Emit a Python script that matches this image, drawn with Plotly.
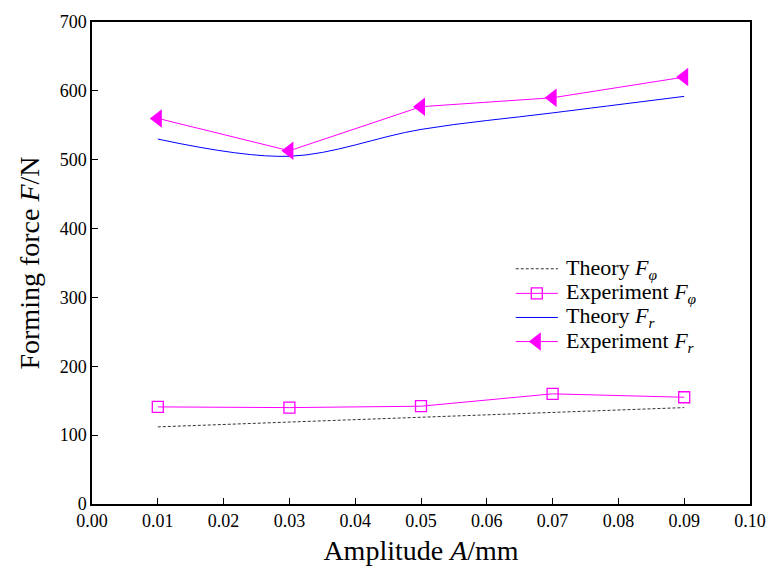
import plotly.graph_objects as go

amplitude = [0.01, 0.03, 0.05, 0.07, 0.09]
theory_fphi = [112, 119, 126, 133, 140]
exp_fphi = [141, 140, 142, 160, 155]
theory_fr = [530, 505, 544, 568, 592]
exp_fr = [560, 513, 577, 590, 620]

series_names = ["Theory <i>F<sub>φ</sub></i>", "Experiment <i>F<sub>φ</sub></i>",
                "Theory <i>F<sub>r</sub></i>", "Experiment <i>F<sub>r</sub></i>"]

x_ticks = [i / 100 for i in range(0, 11)]
x_tick_labels = [f"{v:.2f}" for v in x_ticks]
y_ticks = list(range(0, 701, 100))

FONT = "Liberation Serif, Times New Roman, serif"
MAG = "#FF00FF"
BLUE = "#0000FF"
DASHC = "#333333"

styles = [
    dict(mode="lines", line=dict(color=DASHC, width=1, dash="3px,2px")),
    dict(mode="lines+markers", line=dict(color=MAG, width=1),
         marker=dict(symbol="square-open", size=11, color=MAG, line=dict(width=1.3))),
    dict(mode="lines", line=dict(color=BLUE, width=1)),
    dict(mode="lines+markers", line=dict(color=MAG, width=1),
         marker=dict(symbol="triangle-left", size=16, color=MAG)),
]

fig = go.Figure()
fig.add_trace(go.Scatter(x=amplitude, y=theory_fphi, name=series_names[0], **styles[0]))
fig.add_trace(go.Scatter(x=amplitude, y=exp_fphi, name=series_names[1], **styles[1]))
s2 = dict(styles[2]); s2["line"] = dict(color=BLUE, width=1, shape="spline", smoothing=1.0)
fig.add_trace(go.Scatter(x=amplitude, y=theory_fr, name=series_names[2], **s2))
fig.add_trace(go.Scatter(x=amplitude, y=exp_fr, name=series_names[3], **styles[3]))

# Legend drawn on an overlay axis (fractions of the plot area)
leg_x0, leg_x1, leg_xm, leg_xt = 0.644, 0.708, 0.676, 0.718
leg_rows = [0.488, 0.437, 0.387, 0.337]
for name, st, yy in zip(series_names, styles, leg_rows):
    if "markers" in st["mode"]:
        fig.add_trace(go.Scatter(x=[leg_x0, leg_x1], y=[yy, yy], mode="lines", line=st["line"],
                                 xaxis="x2", yaxis="y2", showlegend=False, hoverinfo="skip"))
        fig.add_trace(go.Scatter(x=[leg_xm], y=[yy], mode="markers", marker=st["marker"],
                                 xaxis="x2", yaxis="y2", showlegend=False, hoverinfo="skip"))
    else:
        fig.add_trace(go.Scatter(x=[leg_x0, leg_x1], y=[yy, yy], mode="lines", line=st["line"],
                                 xaxis="x2", yaxis="y2", showlegend=False, hoverinfo="skip"))
    fig.add_annotation(x=leg_xt, y=yy, xref="x2", yref="y2", text=name, showarrow=False,
                       xanchor="left", yanchor="middle", font=dict(size=22, family=FONT, color="black"))

fig.update_layout(
    width=778, height=574,
    margin=dict(l=92, r=18, t=20, b=70),
    plot_bgcolor="white", paper_bgcolor="white",
    font=dict(family=FONT, color="black", size=18),
    showlegend=False,
    xaxis=dict(range=[0, 0.1], tickvals=x_ticks, ticktext=x_tick_labels,
               ticks="inside", ticklen=6, tickwidth=1, tickcolor="black",
               showline=True, linecolor="black", linewidth=1.5, mirror=True,
               showgrid=False, zeroline=False,
               tickfont=dict(size=18, family=FONT),
               title=dict(text="Amplitude <i>A</i>/mm", font=dict(size=28, family=FONT), standoff=10)),
    yaxis=dict(range=[0, 700], tickvals=y_ticks,
               ticks="inside", ticklen=6, tickwidth=1, tickcolor="black",
               showline=True, linecolor="black", linewidth=1.5, mirror=True,
               showgrid=False, zeroline=False,
               tickfont=dict(size=18, family=FONT),
               title=dict(text="Forming force <i>F</i>/N", font=dict(size=28, family=FONT), standoff=12)),
    xaxis2=dict(range=[0, 1], overlaying="x", visible=False, fixedrange=True),
    yaxis2=dict(range=[0, 1], overlaying="y", visible=False, fixedrange=True),
)

fig.write_html("out.html")
